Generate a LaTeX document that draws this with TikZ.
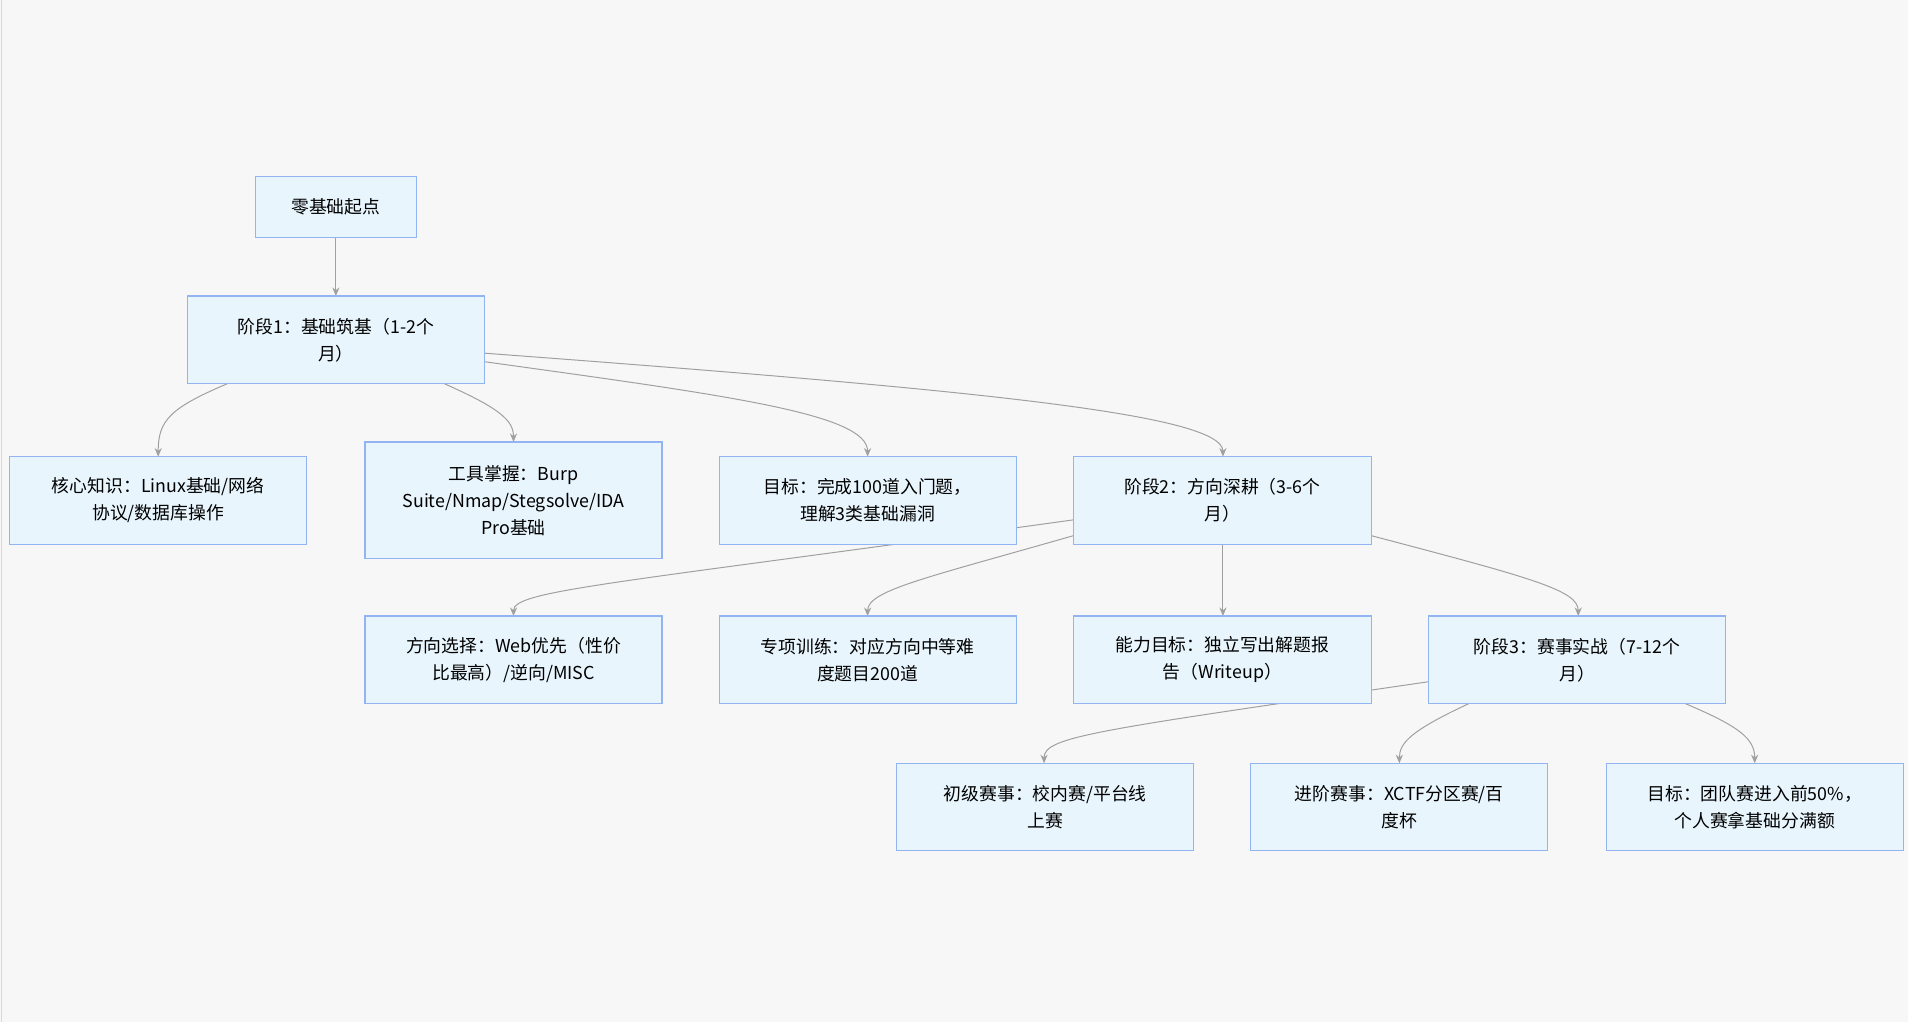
\documentclass[tikz,border=0pt]{standalone}
\usepackage{fontspec}
\setmainfont{Noto Sans CJK SC}
\usetikzlibrary{arrows.meta}
\definecolor{boxfill}{HTML}{E8F5FD}
\definecolor{boxline}{HTML}{92B4F2}
\definecolor{edgecol}{HTML}{A0A0A0}
\begin{document}
\begin{tikzpicture}[x=0.03cm,y=-0.03cm,
  box/.style={draw=boxline,fill=boxfill,line width=0.8pt,align=center,inner sep=0pt,font=\fontsize{12.5}{19}\selectfont},
  conn/.style={draw=edgecol,line width=0.7pt,-{Stealth[length=6pt,width=5pt]}}]
\fill[white!97!black] (0,0) rectangle (1568,840);
\draw[gray!30] (1,0) -- (1,840);
\useasboundingbox (0,0) rectangle (1568,840);
\def\bx#1#2#3#4#5#6{\node[box,minimum width={(#4-#2)*0.03cm},minimum height={(#5-#3)*0.03cm}] (#1) at ({(#2+#4)/2},{(#3+#5)/2}) {#6};}
% edges first
\draw[conn] (276,195) -- (276,243);
\draw[conn] (187,315) .. controls (140,335) and (130,345) .. (130,375);
\draw[conn] (365,315) .. controls (410,335) and (422,345) .. (422,363);
\draw[conn] (398,297) .. controls (600,325) and (713,340) .. (713,375);
\draw[conn] (398,290) .. controls (800,320) and (1005,340) .. (1005,375);
\draw[conn] (882,427) .. controls (500,480) and (422,485) .. (422,506);
\draw[conn] (882,440) .. controls (760,475) and (713,485) .. (713,506);
\draw[conn] (1005,447) -- (1005,506);
\draw[conn] (1127,440) .. controls (1260,475) and (1297,485) .. (1297,506);
\draw[conn] (1174,560) .. controls (900,600) and (858,605) .. (858,627);
\draw[conn] (1207,578) .. controls (1160,600) and (1150,610) .. (1150,627);
\draw[conn] (1385,578) .. controls (1430,597) and (1442,607) .. (1442,627);
% nodes
\bx{start}{210}{145}{342}{195}{零基础起点}
\bx{s1}{154}{243}{398}{315}{阶段1：基础筑基（1-2个\\月）}
\bx{k1}{8}{375}{252}{447}{核心知识：Linux基础/网络\\协议/数据库操作}
\bx{k2}{300}{363}{544}{459}{工具掌握：Burp\\Suite/Nmap/Stegsolve/IDA\\Pro基础}
\bx{k3}{591}{375}{835}{447}{目标：完成100道入门题，\\理解3类基础漏洞}
\bx{s2}{882}{375}{1127}{447}{阶段2：方向深耕（3-6个\\月）}
\bx{d1}{300}{506}{544}{578}{方向选择：Web优先（性价\\比最高）/逆向/MISC}
\bx{d2}{591}{506}{835}{578}{专项训练：对应方向中等难\\度题目200道}
\bx{d3}{882}{506}{1127}{578}{能力目标：独立写出解题报\\告（Writeup）}
\bx{s3}{1174}{506}{1418}{578}{阶段3：赛事实战（7-12个\\月）}
\bx{c1}{737}{627}{981}{699}{初级赛事：校内赛/平台线\\上赛}
\bx{c2}{1028}{627}{1272}{699}{进阶赛事：XCTF分区赛/百\\度杯}
\bx{c3}{1320}{627}{1564}{699}{目标：团队赛进入前50\%，\\个人赛拿基础分满额}
\end{tikzpicture}
\end{document}
